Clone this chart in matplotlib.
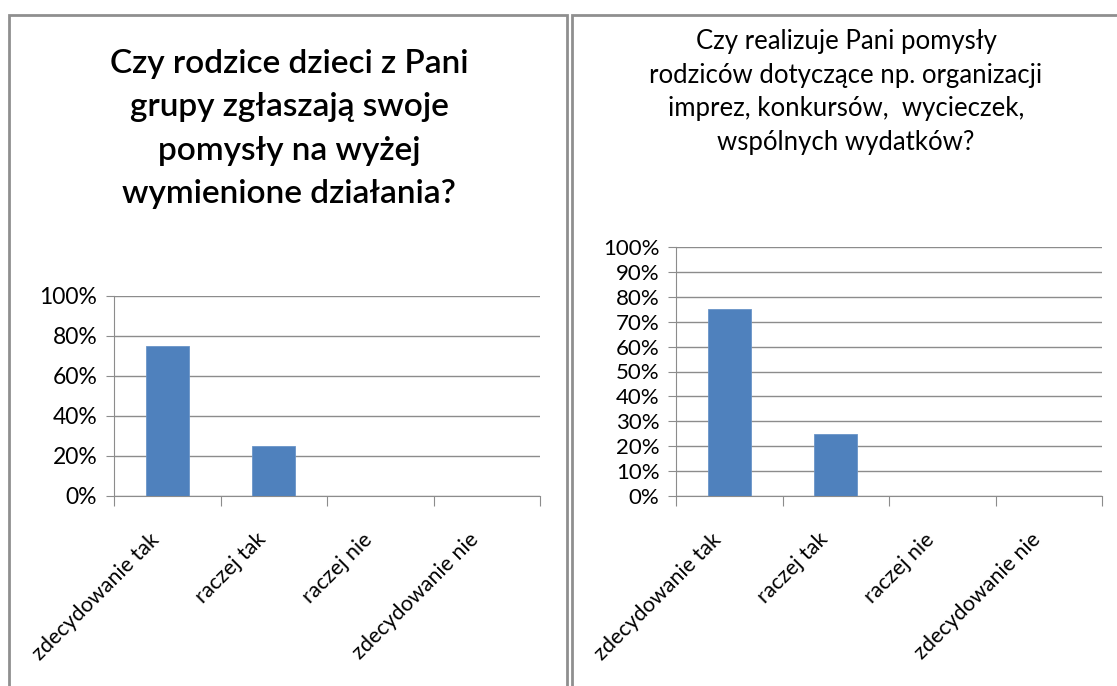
import matplotlib.pyplot as plt
from matplotlib.patches import Rectangle
from matplotlib.ticker import FixedLocator, PercentFormatter
from matplotlib.transforms import ScaledTranslation
import numpy as np

plt.rcParams['font.family'] = ['Lato', 'DejaVu Sans']

categories = ['zdecydowanie tak', 'raczej tak', 'raczej nie', 'zdecydowanie nie']
values_left = [0.75, 0.25, 0.0, 0.0]
values_right = [0.75, 0.25, 0.0, 0.0]

title_left = 'Czy rodzice dzieci z Pani\ngrupy zgłaszają swoje\npomysły na wyżej\nwymienione działania?'
title_right = ('Czy realizuje Pani pomysły\nrodziców dotyczące np. organizacji\n'
               'imprez, konkursów,  wycieczek,\nwspólnych wydatków?')

bar_color = '#4F81BD'
grid_color = '#8C8C8C'
frame_color = '#8F8F8F'

W, H = 1117, 686
fig = plt.figure(figsize=(W / 100, H / 100), dpi=100)


def fx(px):
    return px / W


def fy(py):
    return 1 - py / H


# panel frames
fig.patches.append(Rectangle((fx(9), fy(700)), fx(567 - 9), fy(15) - fy(700),
                             transform=fig.transFigure, fill=False,
                             edgecolor=frame_color, linewidth=2))
fig.patches.append(Rectangle((fx(572), fy(700)), fx(1130 - 572), fy(15) - fy(700),
                             transform=fig.transFigure, fill=False,
                             edgecolor=frame_color, linewidth=2))


def draw_panel(rect, values, yticks, tick_size, xlab_size):
    ax = fig.add_axes(rect)
    x = np.arange(len(categories))
    ax.bar(x, values, width=0.4, color=bar_color, edgecolor='#6A94C8',
           linewidth=0.6, zorder=3)
    ax.set_xlim(-0.5, len(categories) - 0.5)
    ax.set_ylim(0, 1)
    ax.set_yticks(yticks)
    ax.yaxis.set_major_formatter(PercentFormatter(1.0, decimals=0))
    ax.grid(axis='y', color=grid_color, linewidth=1, zorder=0)
    ax.xaxis.set_major_locator(FixedLocator(np.arange(len(categories) + 1) - 0.5))
    ax.xaxis.set_minor_locator(FixedLocator(x))
    ax.set_xticklabels([])
    ax.set_xticklabels(categories, minor=True, rotation=45, ha='right',
                       va='top', rotation_mode='anchor', fontsize=xlab_size)
    ax.tick_params(axis='x', which='major', length=7, color=grid_color)
    ax.tick_params(axis='x', which='minor', length=0, pad=24)
    ax.tick_params(axis='y', length=6, color=grid_color, labelsize=tick_size, pad=6)
    # nudge rotated labels left so they end at the category centre
    shift = ScaledTranslation(-18 / 100, 0, fig.dpi_scale_trans)
    for lab in ax.get_xticklabels(minor=True):
        lab.set_transform(lab.get_transform() + shift)
    for s in ['top', 'right']:
        ax.spines[s].set_visible(False)
    for s in ['left', 'bottom']:
        ax.spines[s].set_color(grid_color)
    return ax


ax1 = draw_panel([fx(114), fy(496), fx(540 - 114), fy(296) - fy(496)],
                 values_left, np.arange(0, 1.01, 0.2), 16.5, 15.5)
ax2 = draw_panel([fx(676), fy(496), fx(1102 - 676), fy(247) - fy(496)],
                 values_right, np.arange(0, 1.01, 0.1), 16, 15.5)

fig.text(fx(289), fy(129), title_left, ha='center', va='center',
         fontsize=24, fontweight=600, linespacing=1.55)
fig.text(fx(846), fy(92), title_right, ha='center', va='center',
         fontsize=18.5, linespacing=1.44)

fig.savefig('out.png', dpi=100, facecolor='white')
